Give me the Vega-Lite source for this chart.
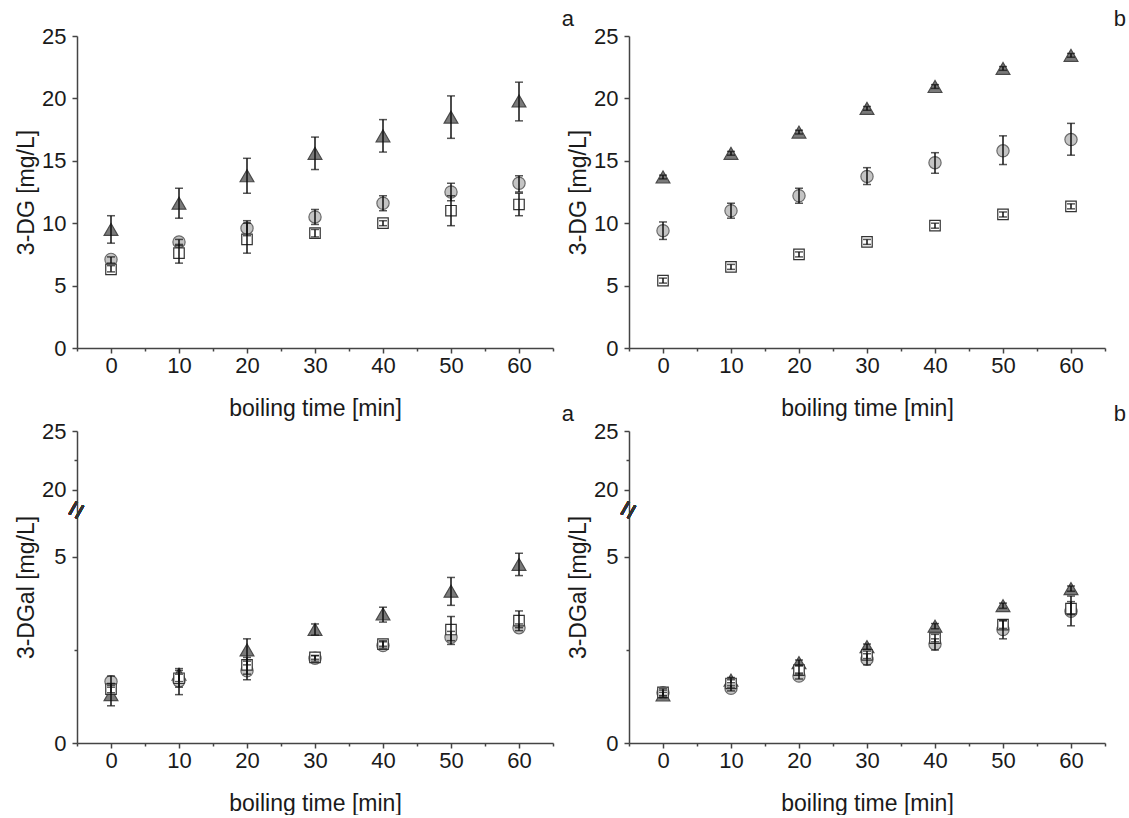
{
  "$schema": "https://vega.github.io/schema/vega-lite/v6.json",
  "background": "white",
  "padding": {"left": 15, "top": 8, "right": 0, "bottom": 0},
  "config": {
    "view": {"stroke": null},
    "font": "Liberation Sans",
    "axis": {
      "grid": false,
      "domainColor": "#444444",
      "domainWidth": 1.5,
      "tickColor": "#444444",
      "tickWidth": 1.5,
      "labelFont": "Liberation Sans",
      "labelFontSize": 22,
      "labelColor": "#1a1a1a",
      "titleFont": "Liberation Sans",
      "titleFontSize": 23,
      "titleFontWeight": "normal",
      "titleColor": "#1a1a1a",
      "labelFlush": false,
      "labelOverlap": false
    },
    "axisX": {"titlePadding": 21, "labelPadding": 2},
    "axisY": {"titlePadding": 3, "labelPadding": 6},
    "title": {"font": "Liberation Sans", "fontSize": 22, "fontWeight": "normal", "color": "#1a1a1a", "anchor": "end", "frame": "group", "offset": -6, "dx": 21}
  },
  "datasets": {
    "tl": [
      {"t": 0, "s": "A", "y": 9.5, "lo": 8.4, "hi": 10.6},
      {"t": 10, "s": "A", "y": 11.6, "lo": 10.4, "hi": 12.8},
      {"t": 20, "s": "A", "y": 13.8, "lo": 12.4, "hi": 15.2},
      {"t": 30, "s": "A", "y": 15.6, "lo": 14.3, "hi": 16.9},
      {"t": 40, "s": "A", "y": 17.0, "lo": 15.7, "hi": 18.3},
      {"t": 50, "s": "A", "y": 18.5, "lo": 16.8, "hi": 20.2},
      {"t": 60, "s": "A", "y": 19.8, "lo": 18.2, "hi": 21.3},
      {"t": 0, "s": "B", "y": 7.1, "lo": 6.8, "hi": 7.3},
      {"t": 10, "s": "B", "y": 8.5, "lo": 8.2, "hi": 8.7},
      {"t": 20, "s": "B", "y": 9.6, "lo": 9.0, "hi": 10.2},
      {"t": 30, "s": "B", "y": 10.5, "lo": 9.9, "hi": 11.1},
      {"t": 40, "s": "B", "y": 11.6, "lo": 11.0, "hi": 12.2},
      {"t": 50, "s": "B", "y": 12.5, "lo": 11.8, "hi": 13.2},
      {"t": 60, "s": "B", "y": 13.2, "lo": 12.5, "hi": 13.8},
      {"t": 0, "s": "C", "y": 6.3, "lo": 6.1, "hi": 6.6},
      {"t": 10, "s": "C", "y": 7.6, "lo": 6.8, "hi": 8.3},
      {"t": 20, "s": "C", "y": 8.7, "lo": 7.6, "hi": 10.0},
      {"t": 30, "s": "C", "y": 9.2, "lo": 8.9, "hi": 9.5},
      {"t": 40, "s": "C", "y": 10.0, "lo": 9.8, "hi": 10.2},
      {"t": 50, "s": "C", "y": 11.0, "lo": 9.8, "hi": 12.2},
      {"t": 60, "s": "C", "y": 11.5, "lo": 10.6, "hi": 12.4}
    ],
    "tr": [
      {"t": 0, "s": "A", "y": 13.7, "lo": 13.55, "hi": 13.85},
      {"t": 10, "s": "A", "y": 15.6, "lo": 15.45, "hi": 15.75},
      {"t": 20, "s": "A", "y": 17.3, "lo": 17.15, "hi": 17.45},
      {"t": 30, "s": "A", "y": 19.2, "lo": 19.05, "hi": 19.35},
      {"t": 40, "s": "A", "y": 20.95, "lo": 20.8, "hi": 21.1},
      {"t": 50, "s": "A", "y": 22.4, "lo": 22.25, "hi": 22.55},
      {"t": 60, "s": "A", "y": 23.45, "lo": 23.3, "hi": 23.6},
      {"t": 0, "s": "B", "y": 9.4, "lo": 8.7, "hi": 10.1},
      {"t": 10, "s": "B", "y": 11.0, "lo": 10.4, "hi": 11.6},
      {"t": 20, "s": "B", "y": 12.2, "lo": 11.6, "hi": 12.8},
      {"t": 30, "s": "B", "y": 13.75, "lo": 13.1, "hi": 14.45},
      {"t": 40, "s": "B", "y": 14.85, "lo": 14.0, "hi": 15.65},
      {"t": 50, "s": "B", "y": 15.8, "lo": 14.7, "hi": 17.0},
      {"t": 60, "s": "B", "y": 16.7, "lo": 15.45, "hi": 18.0},
      {"t": 0, "s": "C", "y": 5.4, "lo": 5.2, "hi": 5.6},
      {"t": 10, "s": "C", "y": 6.5, "lo": 6.3, "hi": 6.7},
      {"t": 20, "s": "C", "y": 7.5, "lo": 7.3, "hi": 7.7},
      {"t": 30, "s": "C", "y": 8.5, "lo": 8.3, "hi": 8.7},
      {"t": 40, "s": "C", "y": 9.8, "lo": 9.6, "hi": 10.0},
      {"t": 50, "s": "C", "y": 10.7, "lo": 10.5, "hi": 10.9},
      {"t": 60, "s": "C", "y": 11.35, "lo": 11.15, "hi": 11.55}
    ],
    "bl": [
      {"t": 0, "s": "A", "y": 1.3, "lo": 1.0, "hi": 1.6},
      {"t": 10, "s": "A", "y": 1.85, "lo": 1.65, "hi": 2.0},
      {"t": 20, "s": "A", "y": 2.5, "lo": 2.1, "hi": 2.8},
      {"t": 30, "s": "A", "y": 3.05, "lo": 2.9, "hi": 3.2},
      {"t": 40, "s": "A", "y": 3.47, "lo": 3.25, "hi": 3.65},
      {"t": 50, "s": "A", "y": 4.08, "lo": 3.7, "hi": 4.45},
      {"t": 60, "s": "A", "y": 4.8, "lo": 4.5, "hi": 5.1},
      {"t": 0, "s": "B", "y": 1.65, "lo": 1.5, "hi": 1.8},
      {"t": 10, "s": "B", "y": 1.67, "lo": 1.5, "hi": 1.85},
      {"t": 20, "s": "B", "y": 1.94, "lo": 1.7, "hi": 2.2},
      {"t": 30, "s": "B", "y": 2.28, "lo": 2.2, "hi": 2.35},
      {"t": 40, "s": "B", "y": 2.62, "lo": 2.55, "hi": 2.72},
      {"t": 50, "s": "B", "y": 2.84, "lo": 2.65, "hi": 3.0},
      {"t": 60, "s": "B", "y": 3.1, "lo": 3.02, "hi": 3.2},
      {"t": 0, "s": "C", "y": 1.45, "lo": 1.35, "hi": 1.55},
      {"t": 10, "s": "C", "y": 1.74, "lo": 1.3, "hi": 1.95},
      {"t": 20, "s": "C", "y": 2.1, "lo": 1.85, "hi": 2.3},
      {"t": 30, "s": "C", "y": 2.3, "lo": 2.25, "hi": 2.35},
      {"t": 40, "s": "C", "y": 2.66, "lo": 2.6, "hi": 2.75},
      {"t": 50, "s": "C", "y": 3.05, "lo": 2.75, "hi": 3.4},
      {"t": 60, "s": "C", "y": 3.29, "lo": 3.1, "hi": 3.55}
    ],
    "br": [
      {"t": 0, "s": "A", "y": 1.29, "lo": 1.22, "hi": 1.36},
      {"t": 10, "s": "A", "y": 1.69, "lo": 1.62, "hi": 1.76},
      {"t": 20, "s": "A", "y": 2.16, "lo": 2.09, "hi": 2.23},
      {"t": 30, "s": "A", "y": 2.59, "lo": 2.52, "hi": 2.66},
      {"t": 40, "s": "A", "y": 3.14, "lo": 3.07, "hi": 3.21},
      {"t": 50, "s": "A", "y": 3.69, "lo": 3.62, "hi": 3.76},
      {"t": 60, "s": "A", "y": 4.15, "lo": 4.08, "hi": 4.22},
      {"t": 0, "s": "B", "y": 1.35, "lo": 1.28, "hi": 1.42},
      {"t": 10, "s": "B", "y": 1.47, "lo": 1.4, "hi": 1.55},
      {"t": 20, "s": "B", "y": 1.8, "lo": 1.72, "hi": 1.88},
      {"t": 30, "s": "B", "y": 2.25, "lo": 2.1, "hi": 2.4},
      {"t": 40, "s": "B", "y": 2.66, "lo": 2.5, "hi": 2.8},
      {"t": 50, "s": "B", "y": 3.05, "lo": 2.8, "hi": 3.3},
      {"t": 60, "s": "B", "y": 3.54, "lo": 3.15, "hi": 3.95},
      {"t": 0, "s": "C", "y": 1.36, "lo": 1.26, "hi": 1.46},
      {"t": 10, "s": "C", "y": 1.6, "lo": 1.5, "hi": 1.7},
      {"t": 20, "s": "C", "y": 1.96, "lo": 1.85, "hi": 2.07},
      {"t": 30, "s": "C", "y": 2.37, "lo": 2.27, "hi": 2.47},
      {"t": 40, "s": "C", "y": 2.82, "lo": 2.72, "hi": 2.92},
      {"t": 50, "s": "C", "y": 3.18, "lo": 3.08, "hi": 3.28},
      {"t": 60, "s": "C", "y": 3.61, "lo": 3.45, "hi": 3.8}
    ]
  },
  "columns": 2,
  "spacing": {"row": 83, "column": 76},
  "bounds": "flush",
  "concat": [
    {
      "width": 476, "height": 312,
      "title": {"text": "a"},
      "data": {"name": "tl"},
      "encoding": {
        "x": {"field": "t", "type": "quantitative", "scale": {"domain": [-5, 65], "nice": false, "zero": false},
          "axis": {"title": "boiling time [min]", "values": [-5, 0, 5, 10, 15, 20, 25, 30, 35, 40, 45, 50, 55, 60, 65],
            "labelExpr": "datum.value % 10 === 0 ? datum.label : ''",
            "tickSize": {"condition": {"test": "datum.value % 10 === 0", "value": 5}, "value": 3}}}
      },
      "layer": [
        {
          "mark": {"type": "point", "filled": true, "opacity": 1, "strokeWidth": 1.2},
          "encoding": {
            "y": {"field": "y", "type": "quantitative", "scale": {"domain": [0, 25], "nice": false, "zero": false},
              "axis": {"title": "3-DG [mg/L]", "values": [0, 2.5, 5, 7.5, 10, 12.5, 15, 17.5, 20, 22.5, 25],
                "labelExpr": "datum.value % 5 === 0 ? datum.label : ''",
                "tickSize": {"condition": {"test": "datum.value % 5 === 0", "value": 5}, "value": 3}}},
            "shape": {"field": "s", "type": "nominal", "scale": {"domain": ["A", "B", "C"], "range": ["triangle-up", "circle", "square"]}, "legend": null},
            "fill": {"field": "s", "type": "nominal", "scale": {"domain": ["A", "B", "C"], "range": ["#7a7a7a", "#c4c4c4", "#ffffff"]}, "legend": null},
            "stroke": {"field": "s", "type": "nominal", "scale": {"domain": ["A", "B", "C"], "range": ["#4a4a4a", "#6a6a6a", "#333333"]}, "legend": null},
            "size": {"field": "s", "type": "nominal", "scale": {"domain": ["A", "B", "C"], "range": [190, 110, 95]}, "legend": null}
          }
        },
        {"mark": {"type": "rule", "color": "#111111", "strokeWidth": 1.5},
          "encoding": {"y": {"field": "lo", "type": "quantitative"}, "y2": {"field": "hi"}}},
        {"mark": {"type": "tick", "orient": "horizontal", "color": "#111111", "thickness": 1.5, "size": 8},
          "encoding": {"y": {"field": "lo", "type": "quantitative"}}},
        {"mark": {"type": "tick", "orient": "horizontal", "color": "#111111", "thickness": 1.5, "size": 8},
          "encoding": {"y": {"field": "hi", "type": "quantitative"}}}
      ]
    },
    {
      "width": 476, "height": 312,
      "title": {"text": "b"},
      "data": {"name": "tr"},
      "encoding": {
        "x": {"field": "t", "type": "quantitative", "scale": {"domain": [-5, 65], "nice": false, "zero": false},
          "axis": {"title": "boiling time [min]", "values": [-5, 0, 5, 10, 15, 20, 25, 30, 35, 40, 45, 50, 55, 60, 65],
            "labelExpr": "datum.value % 10 === 0 ? datum.label : ''",
            "tickSize": {"condition": {"test": "datum.value % 10 === 0", "value": 5}, "value": 3}}}
      },
      "layer": [
        {
          "mark": {"type": "point", "filled": true, "opacity": 1, "strokeWidth": 1.2},
          "encoding": {
            "y": {"field": "y", "type": "quantitative", "scale": {"domain": [0, 25], "nice": false, "zero": false},
              "axis": {"title": "3-DG [mg/L]", "values": [0, 2.5, 5, 7.5, 10, 12.5, 15, 17.5, 20, 22.5, 25],
                "labelExpr": "datum.value % 5 === 0 ? datum.label : ''",
                "tickSize": {"condition": {"test": "datum.value % 5 === 0", "value": 5}, "value": 3}}},
            "shape": {"field": "s", "type": "nominal", "scale": {"domain": ["A", "B", "C"], "range": ["triangle-up", "circle", "square"]}, "legend": null},
            "fill": {"field": "s", "type": "nominal", "scale": {"domain": ["A", "B", "C"], "range": ["#808080", "#c4c4c4", "#b4b4b4"]}, "legend": null},
            "stroke": {"field": "s", "type": "nominal", "scale": {"domain": ["A", "B", "C"], "range": ["#111111", "#555555", "#222222"]}, "legend": null},
            "size": {"field": "s", "type": "nominal", "scale": {"domain": ["A", "B", "C"], "range": [190, 110, 95]}, "legend": null}
          }
        },
        {"mark": {"type": "rule", "color": "#111111", "strokeWidth": 1.5},
          "encoding": {"y": {"field": "lo", "type": "quantitative"}, "y2": {"field": "hi"}}},
        {"mark": {"type": "tick", "orient": "horizontal", "color": "#111111", "thickness": 1.5, "size": 8},
          "encoding": {"y": {"field": "lo", "type": "quantitative"}}},
        {"mark": {"type": "tick", "orient": "horizontal", "color": "#111111", "thickness": 1.5, "size": 8},
          "encoding": {"y": {"field": "hi", "type": "quantitative"}}}
      ]
    },
    {
      "width": 476, "height": 312,
      "title": {"text": "a"},
      "data": {"name": "bl"},
      "encoding": {
        "x": {"field": "t", "type": "quantitative", "scale": {"domain": [-5, 65], "nice": false, "zero": false},
          "axis": {"title": "boiling time [min]", "values": [-5, 0, 5, 10, 15, 20, 25, 30, 35, 40, 45, 50, 55, 60, 65],
            "labelExpr": "datum.value % 10 === 0 ? datum.label : ''",
            "tickSize": {"condition": {"test": "datum.value % 10 === 0", "value": 5}, "value": 3}}}
      },
      "layer": [
        {
          "mark": {"type": "point", "filled": true, "opacity": 1, "strokeWidth": 1.2},
          "encoding": {
            "y": {"field": "y", "type": "quantitative", "scale": {"domain": [0, 6.15, 18.6, 25], "range": [312, 83.2, 75.5, 0], "nice": false, "zero": false},
              "axis": {"title": "3-DGal [mg/L]", "values": [0, 2.5, 5, 20, 22.5, 25],
                "labelExpr": "datum.value % 5 === 0 ? datum.label : ''",
                "tickSize": {"condition": {"test": "datum.value % 5 === 0", "value": 5}, "value": 3}}},
            "shape": {"field": "s", "type": "nominal", "scale": {"domain": ["A", "B", "C"], "range": ["triangle-up", "circle", "square"]}, "legend": null},
            "fill": {"field": "s", "type": "nominal", "scale": {"domain": ["A", "B", "C"], "range": ["#7a7a7a", "#c4c4c4", "#ffffff"]}, "legend": null},
            "stroke": {"field": "s", "type": "nominal", "scale": {"domain": ["A", "B", "C"], "range": ["#4a4a4a", "#6a6a6a", "#333333"]}, "legend": null},
            "size": {"field": "s", "type": "nominal", "scale": {"domain": ["A", "B", "C"], "range": [190, 110, 95]}, "legend": null}
          }
        },
        {"mark": {"type": "rule", "color": "#111111", "strokeWidth": 1.5},
          "encoding": {"y": {"field": "lo", "type": "quantitative"}, "y2": {"field": "hi"}}},
        {"mark": {"type": "tick", "orient": "horizontal", "color": "#111111", "thickness": 1.5, "size": 8},
          "encoding": {"y": {"field": "lo", "type": "quantitative"}}},
        {"mark": {"type": "tick", "orient": "horizontal", "color": "#111111", "thickness": 1.5, "size": 8},
          "encoding": {"y": {"field": "hi", "type": "quantitative"}}},
        {"mark": {"type": "text", "text": "=", "fontSize": 30, "angle": 300, "align": "center", "baseline": "middle", "color": "#333333"},
          "encoding": {"x": {"datum": -5, "type": "quantitative"}, "y": {"datum": 12.4, "type": "quantitative"}}}
      ]
    },
    {
      "width": 476, "height": 312,
      "title": {"text": "b"},
      "data": {"name": "br"},
      "encoding": {
        "x": {"field": "t", "type": "quantitative", "scale": {"domain": [-5, 65], "nice": false, "zero": false},
          "axis": {"title": "boiling time [min]", "values": [-5, 0, 5, 10, 15, 20, 25, 30, 35, 40, 45, 50, 55, 60, 65],
            "labelExpr": "datum.value % 10 === 0 ? datum.label : ''",
            "tickSize": {"condition": {"test": "datum.value % 10 === 0", "value": 5}, "value": 3}}}
      },
      "layer": [
        {
          "mark": {"type": "point", "filled": true, "opacity": 1, "strokeWidth": 1.2},
          "encoding": {
            "y": {"field": "y", "type": "quantitative", "scale": {"domain": [0, 6.15, 18.6, 25], "range": [312, 83.2, 75.5, 0], "nice": false, "zero": false},
              "axis": {"title": "3-DGal [mg/L]", "values": [0, 2.5, 5, 20, 22.5, 25],
                "labelExpr": "datum.value % 5 === 0 ? datum.label : ''",
                "tickSize": {"condition": {"test": "datum.value % 5 === 0", "value": 5}, "value": 3}}},
            "shape": {"field": "s", "type": "nominal", "scale": {"domain": ["A", "B", "C"], "range": ["triangle-up", "circle", "square"]}, "legend": null},
            "fill": {"field": "s", "type": "nominal", "scale": {"domain": ["A", "B", "C"], "range": ["#808080", "#c4c4c4", "#a8a8a8"]}, "legend": null},
            "stroke": {"field": "s", "type": "nominal", "scale": {"domain": ["A", "B", "C"], "range": ["#111111", "#444444", "#222222"]}, "legend": null},
            "size": {"field": "s", "type": "nominal", "scale": {"domain": ["A", "B", "C"], "range": [190, 110, 95]}, "legend": null}
          }
        },
        {"mark": {"type": "rule", "color": "#111111", "strokeWidth": 1.5},
          "encoding": {"y": {"field": "lo", "type": "quantitative"}, "y2": {"field": "hi"}}},
        {"mark": {"type": "tick", "orient": "horizontal", "color": "#111111", "thickness": 1.5, "size": 8},
          "encoding": {"y": {"field": "lo", "type": "quantitative"}}},
        {"mark": {"type": "tick", "orient": "horizontal", "color": "#111111", "thickness": 1.5, "size": 8},
          "encoding": {"y": {"field": "hi", "type": "quantitative"}}},
        {"mark": {"type": "text", "text": "=", "fontSize": 30, "angle": 300, "align": "center", "baseline": "middle", "color": "#333333"},
          "encoding": {"x": {"datum": -5, "type": "quantitative"}, "y": {"datum": 12.4, "type": "quantitative"}}}
      ]
    }
  ]
}
